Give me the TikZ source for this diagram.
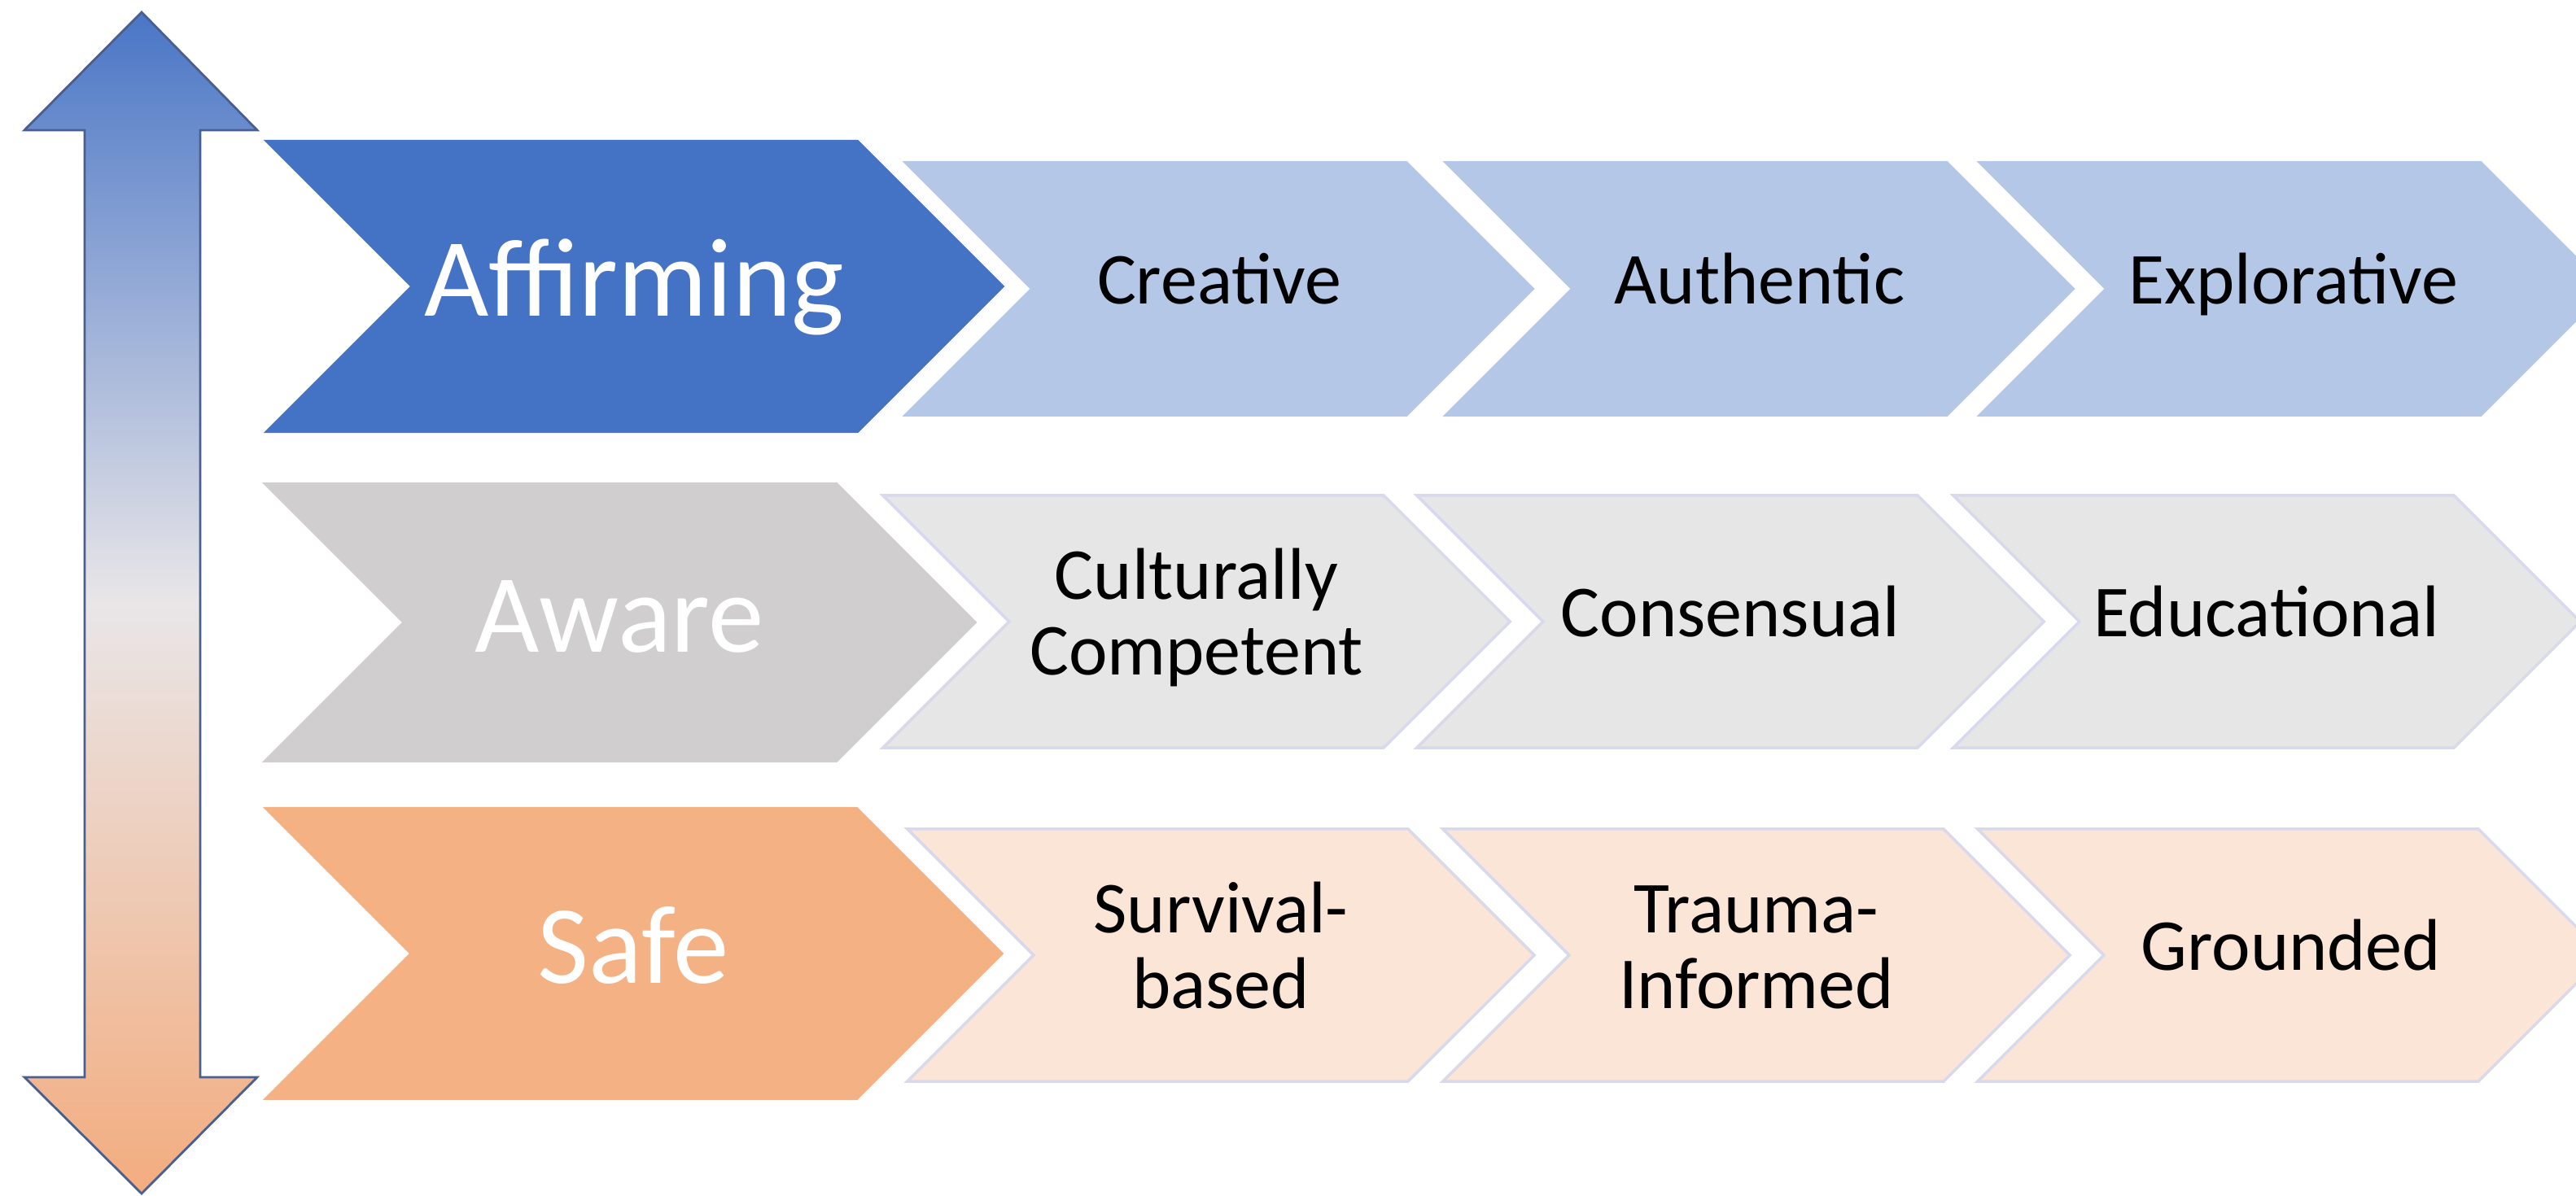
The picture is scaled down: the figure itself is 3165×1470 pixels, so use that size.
\documentclass[tikz,border=0pt]{standalone}
\usepackage{fontspec}
\setmainfont{Carlito}
\usetikzlibrary{shapes.symbols}
\definecolor{affblue}{HTML}{4472C4}
\definecolor{affsub}{HTML}{B4C7E7}
\definecolor{awagrey}{HTML}{D0CECE}
\definecolor{awasub}{HTML}{E7E6E6}
\definecolor{safeorange}{HTML}{F4B183}
\definecolor{safesub}{HTML}{FBE5D6}
\definecolor{subline}{HTML}{D8D9EC}
\definecolor{arrline}{HTML}{4A5F8F}
\definecolor{arrtop}{HTML}{4A76C6}
\definecolor{arrmid}{HTML}{E9E6E8}
\definecolor{arrbot}{HTML}{F3AC7E}
\tikzstyle{chev}=[signal, signal from=west, signal to=east, signal pointer angle=90, inner sep=0pt]
\tikzstyle{mainchev}=[chev, minimum width=9.1cm, minimum height=3.6cm, text=white, font=\fontsize{39}{47}\selectfont, text height=28pt, text depth=7.4pt]
\tikzstyle{subchev}=[chev, minimum width=7.7cm, minimum height=3.1cm, draw=subline, line width=1pt, font=\fontsize{25.6}{26.5}\selectfont, text height=17.9pt, text depth=7.2pt]
\tikzstyle{subtwo}=[subchev, align=center, text height=44.4pt, text depth=7.2pt]
\tikzstyle{arrowline}=[draw=arrline, line width=0.8pt]

\begin{document}
\begin{tikzpicture}[x=0.01cm, y=-0.01cm]
          \useasboundingbox (0,0) rectangle (3165,1470);
          \clip (0,0) rectangle (3165,1470);
          %vertical arrow
          \draw[arrowline, top color=arrtop, bottom color=arrbot, middle color=arrmid] (174,15) -- (316,160) -- (246,160) -- (246,1324) -- (316,1324) -- (174,1467) -- (30,1324) -- (104,1324) -- (104,160) -- (30,160) -- cycle;
          %affirming
          \node[mainchev, fill=affblue] (aff) at (779,352) {Affirming};
          \node[subchev, fill=affsub, draw=affsub] (aff1) at (1498,355) {Creative};
          \node[subchev, fill=affsub, draw=affsub] (aff2) at (2162,355) {Authentic};
          \node[subchev, fill=affsub, draw=affsub] (aff3) at (2818,355) {Explorative};
          %aware
          \node[mainchev, fill=awagrey, minimum width=8.78cm, minimum height=3.44cm] (awa) at (761,765) {Aware};
          \node[subtwo, fill=awasub] (awa1) at (1470,764) {Culturally\\Competent};
          \node[subchev, fill=awasub] (awa2) at (2126,764) {Consensual};
          \node[subchev, fill=awasub] (awa3) at (2785,764) {Educational};
          %safe
          \node[mainchev, fill=safeorange] (saf) at (778,1172) {Safe};
          \node[subtwo, fill=safesub] (saf1) at (1500,1174) {Survival-\\based};
          \node[subtwo, fill=safesub] (saf2) at (2158,1174) {Trauma-\\Informed};
          \node[subchev, fill=safesub] (saf3) at (2815,1174) {Grounded};
        \end{tikzpicture}
\end{document}
